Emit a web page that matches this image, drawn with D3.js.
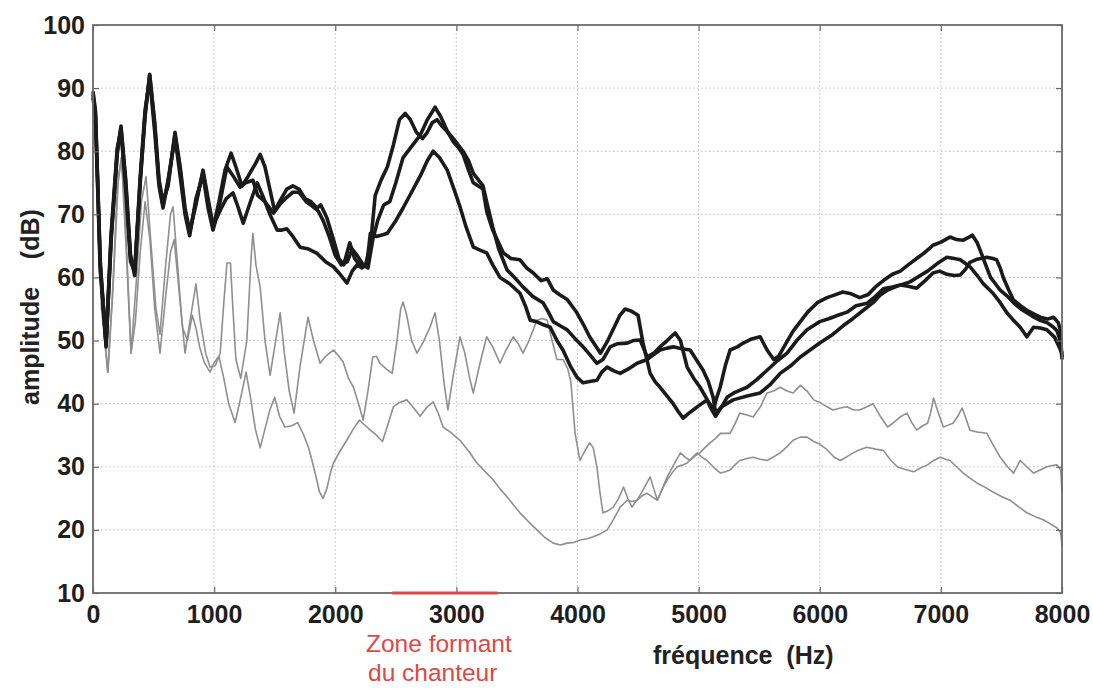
<!DOCTYPE html>
<html lang="fr">
<head>
    <meta charset="UTF-8">
    <title>Spectre - zone formant du chanteur</title>
    <script src="https://d3js.org/d3.v7.min.js"></script>
    <style>
        body { margin: 0; background: #fff; }
        svg { display: block; font-family: "Liberation Sans", Arial, sans-serif; }
        .axe text { font-size: 25px; font-weight: bold; fill: #1e1e1e; }
        .axe line { stroke: #666; stroke-width: 1.2px; }
        .grille line { stroke: #bdbdbd; stroke-width: 1px; stroke-dasharray: 1.5,2.5; }
        .titre { font-size: 25px; font-weight: bold; fill: #222; white-space: pre; }
        .zone { font-size: 24.5px; fill: #e04646; }
    </style>
</head>
<body>
<svg width="1093" height="690"></svg>
<script>
    // graduations
    const ticksX = [0, 1000, 2000, 3000, 4000, 5000, 6000, 7000, 8000];
    const ticksY = [10, 20, 30, 40, 50, 60, 70, 80, 90, 100];
    const zoneFormant = [2470, 3340];

    // spectres [frequence Hz, amplitude dB] - traits noirs
    const noir1 = [[0,89],[20,86],[60,62],[108,49.3],[150,66],[200,80],[231,83.7],[270,75],[310,63],[344,60.7],[390,75],[430,86],[468,92],[510,84],[545,75],[578,71.5],[620,75],[677,82.6],[720,77],[760,70.5],[798,67],[850,72],[908,76.7],[950,72],[991,67.8],[1040,72],[1090,77],[1140,79.7],[1180,77.5],[1230,74.5],[1280,76],[1340,78],[1380,79.5],[1420,77.5],[1460,74],[1500,70.5],[1540,72],[1600,74],[1650,74.5],[1700,74],[1750,72.5],[1800,72],[1850,71],[1880,71.5],[1930,69.5],[1985,66],[2030,63],[2070,62],[2120,65.5],[2160,63],[2200,62],[2250,62],[2290,65],[2330,73],[2380,75.5],[2430,77.5],[2480,81],[2530,85],[2577,86],[2620,85],[2670,83],[2720,82],[2760,83],[2800,84.5],[2840,85],[2880,84],[2930,83],[2975,81.5],[3020,80.5],[3055,79.5],[3100,77],[3140,75],[3220,74],[3250,70.5],[3300,67.5],[3387,63.9],[3450,63],[3525,62.8],[3580,61.5],[3635,60.7],[3700,59.5],[3750,59.8],[3800,58],[3850,57.3],[3915,56.5],[3995,54.4],[4050,52.5],[4100,50.6],[4190,48],[4250,50],[4300,52],[4350,54],[4393,55],[4440,54.7],[4500,54],[4541,49.6],[4600,44.8],[4640,43.5],[4682,42.6],[4740,41.2],[4790,40],[4830,38.8],[4872,37.7],[4920,38.5],[4955,39],[5010,39.8],[5070,40.6],[5100,39.8],[5120,39],[5150,41],[5178,42.6],[5220,46],[5260,48.5],[5320,49],[5368,49.6],[5430,50.2],[5508,50.6],[5565,48.5],[5620,47],[5660,47.5],[5720,49.5],[5780,51.5],[5840,53],[5900,54.5],[5980,56],[6060,56.8],[6120,57.2],[6190,57.7],[6260,57.4],[6330,56.8],[6400,57.3],[6460,58.5],[6525,59.5],[6600,60.5],[6665,61],[6730,62],[6800,63],[6870,64],[6935,65.1],[7000,65.6],[7075,66.4],[7130,66],[7185,65.9],[7225,66.3],[7260,66.7],[7300,65.5],[7325,64.3],[7370,62],[7410,60],[7450,59],[7490,58],[7550,57],[7600,56],[7660,55],[7710,54.4],[7760,53.8],[7820,53.2],[7880,52.8],[7930,52.1],[7960,51.5],[7985,50],[8000,47.4]];

    const noir2 = [[0,88.5],[20,85.5],[60,61],[108,49.8],[150,67],[200,80.5],[231,83.3],[270,74],[310,62.5],[344,61],[390,76],[430,86.5],[468,91.5],[510,83],[545,74.5],[578,71],[620,75.5],[677,82.2],[720,76],[760,70],[798,66.6],[850,72.5],[908,76.2],[950,71],[991,67.5],[1040,71],[1080,75],[1106,77.5],[1160,76],[1215,74.3],[1260,75],[1320,75.4],[1360,73],[1420,72],[1490,70.2],[1540,71.5],[1600,72.7],[1650,73.5],[1700,73.5],[1760,72],[1810,71.3],[1860,70.5],[1900,69],[1950,66.5],[2000,63.5],[2050,62],[2100,62.5],[2140,64.5],[2180,63.5],[2230,62],[2270,61.5],[2310,66],[2350,69],[2400,71.5],[2450,72],[2500,75],[2560,79],[2620,80.5],[2700,82.5],[2760,85],[2800,86.2],[2824,87],[2870,85.5],[2930,83],[2975,82],[3055,80],[3100,78.5],[3140,76.5],[3180,75.5],[3220,74.5],[3250,72],[3300,68],[3350,64.5],[3418,61.2],[3480,60],[3550,58.5],[3630,57],[3715,56],[3760,54.5],[3800,53],[3860,52.3],[3915,51.7],[3980,50.3],[4046,49],[4100,47.8],[4160,46.4],[4210,47],[4270,49],[4330,49.5],[4410,49.6],[4460,50],[4517,50.1],[4575,47.4],[4630,48],[4682,49],[4740,50],[4806,51.2],[4850,50],[4905,45.8],[4960,44],[5012,42.6],[5060,41],[5095,39.5],[5140,38],[5190,39.5],[5235,41],[5300,41.8],[5400,42.6],[5480,43.8],[5565,45.3],[5650,46.8],[5730,48],[5810,50],[5895,51.7],[5960,52.5],[6000,53],[6080,53.5],[6150,54],[6225,54.5],[6300,55.5],[6390,55.9],[6460,57],[6525,58.2],[6600,58.5],[6665,58.8],[6730,58.6],[6800,58.3],[6870,59.5],[6935,60.7],[6990,61],[7050,60.5],[7110,60.3],[7160,60.4],[7200,61.2],[7240,62.4],[7300,62.9],[7380,63.2],[7430,63],[7460,62.8],[7490,61.5],[7515,60],[7560,58],[7600,56.4],[7660,55.5],[7710,54.8],[7770,54.2],[7820,53.7],[7880,53.4],[7930,53.7],[7970,52.8],[7985,51.7],[8000,47]];

    const noir3 = [[0,89.5],[20,86.5],[60,62.5],[108,49],[150,66.5],[200,79.5],[231,84],[270,75.5],[310,63.5],[344,60.3],[390,75.5],[430,85.5],[468,92.2],[510,84.5],[545,75.5],[578,72],[620,74.5],[677,83],[720,77.5],[760,71],[798,67.3],[850,71.5],[908,77],[950,72.5],[991,68.2],[1060,71],[1100,72.5],[1156,73.4],[1200,71],[1240,68.6],[1300,72],[1355,75],[1400,73],[1460,70],[1520,67.5],[1560,67.5],[1600,67.7],[1650,66.5],[1710,64.8],[1780,64.5],[1850,63.8],[1920,62.5],[1985,61.7],[2040,60.5],[2097,59.1],[2140,61],[2180,62],[2220,61.5],[2260,62],[2290,67],[2340,66.5],[2400,66.8],[2430,67],[2500,69],[2560,71],[2630,73.5],[2700,76],[2760,78.5],[2808,80],[2860,79],[2925,77],[2980,74],[3030,71.2],[3080,68],[3140,64.8],[3200,64.3],[3250,63.9],[3300,62],[3360,60],[3440,59],[3525,57.5],[3570,55.5],[3610,53.2],[3660,53],[3720,52.5],[3775,52.1],[3830,50],[3880,48.5],[3940,46],[3995,44.2],[4046,43.3],[4100,43.5],[4160,43.7],[4200,45],[4245,45.8],[4300,45.2],[4352,44.8],[4420,45.5],[4492,46.4],[4575,47],[4630,47.8],[4682,48.5],[4740,48.8],[4790,49],[4860,48.7],[4930,48.5],[4980,47],[5037,45.3],[5080,43.5],[5120,41],[5140,38.5],[5190,39.5],[5285,40.6],[5400,41.2],[5508,41.7],[5590,43],[5673,44.8],[5760,46],[5840,47.4],[5920,48.5],[6000,49.6],[6110,51],[6190,52.3],[6275,53.5],[6360,54.8],[6440,56],[6500,57.2],[6560,58],[6650,58.7],[6745,59.3],[6820,60.2],[6890,61],[6970,62.2],[7050,63.2],[7110,63],[7160,62.8],[7240,61.7],[7300,60.3],[7350,59],[7430,57.5],[7490,56],[7545,54.4],[7600,53.2],[7655,52.1],[7710,50.6],[7765,52.1],[7820,52],[7875,51.7],[7940,50.5],[8000,48]];

    // traits gris
    const gris1 = [[0,88],[30,80],[70,55],[124,45],[170,60],[210,76],[235,79],[270,68],[314,48],[360,60],[400,72],[438,76],[480,65],[520,55],[553,51],[600,62],[640,70],[661,71.2],[690,64],[730,54],[760,48],[800,53],[850,59],[885,53.2],[930,48],[966,45.8],[1010,46],[1050,48],[1080,56],[1106,62.3],[1135,62.3],[1155,55],[1180,47],[1220,44],[1270,50],[1305,63],[1320,67],[1345,62],[1380,58.5],[1420,50],[1462,44.5],[1500,49],[1545,54.4],[1580,48],[1620,42],[1660,38.5],[1710,46],[1775,53.7],[1820,50],[1875,46.4],[1920,47.5],[1985,48.5],[2030,47.5],[2065,46.6],[2110,44],[2150,42.6],[2200,39.5],[2230,37.4],[2270,42],[2310,47.4],[2340,47.5],[2370,46.4],[2420,45.5],[2470,44.8],[2510,50],[2540,55],[2560,56.1],[2590,54],[2630,50],[2675,48],[2720,49.5],[2780,52],[2824,54.4],[2860,50],[2900,43],[2930,39],[2970,44],[3030,50.6],[3070,48],[3110,44],[3140,41.7],[3190,46],[3250,50.6],[3300,49],[3360,46.4],[3410,48.5],[3470,50.6],[3510,49.5],[3550,48],[3600,50],[3665,53.2],[3710,53.5],[3750,53.2],[3790,50],[3830,47],[3880,47],[3920,45.5],[3945,43.5],[3980,35.3],[4020,31],[4060,32.5],[4100,33.8],[4130,33],[4160,30],[4185,26],[4210,22.7],[4250,23],[4295,23.6],[4340,25],[4380,26.8],[4415,25],[4450,23.6],[4500,25],[4540,26.3],[4600,28.4],[4630,26.5],[4660,24.7],[4700,26.5],[4740,28.4],[4800,30.5],[4850,32.2],[4890,31.5],[4930,31],[4970,31.7],[5010,32.2],[5050,33],[5095,33.8],[5140,34.5],[5180,35.3],[5220,35.3],[5260,35.3],[5300,36.8],[5340,38.5],[5400,38.2],[5450,37.9],[5510,39.5],[5565,41.7],[5620,42],[5673,42.6],[5730,42],[5780,41.7],[5840,42.9],[5895,42],[5950,40.6],[6000,40.2],[6060,39.5],[6110,39],[6170,39.3],[6225,39.5],[6280,39],[6330,39],[6390,39.5],[6440,40],[6500,38],[6560,36.3],[6610,37],[6665,37.9],[6720,38.5],[6760,37],[6800,35.8],[6850,36.5],[6890,36.9],[6915,38.5],[6940,40.9],[6980,38.5],[7020,36.3],[7060,36.6],[7100,36.9],[7140,38],[7175,39.3],[7210,37.5],[7240,35.8],[7300,35.5],[7380,35.3],[7430,33.5],[7490,31.5],[7550,30],[7600,29],[7655,31],[7710,30],[7765,29],[7820,29.5],[7875,30],[7920,30.2],[7960,30.3],[7990,29.5],[8000,26]];

    const gris2 = [[0,87],[40,79],[80,54],[120,45],[160,57],[200,74],[235,79],[275,64],[314,48],[350,53],[390,64],[430,72],[470,66],[510,55],[553,48],[600,57],[640,64],[670,66],[700,60],[740,52],[780,50],[820,54],[850,52],[880,49],[920,46.5],[966,45],[1000,46.5],[1040,47.5],[1080,44],[1120,40],[1173,37],[1220,41],[1264,45],[1300,41],[1340,36],[1380,33],[1420,36],[1460,39],[1500,41],[1540,38],[1585,36.3],[1640,36.5],[1690,37],[1740,35],[1780,33],[1808,31],[1840,28.5],[1870,26],[1900,25],[1930,26.5],[1960,29],[1985,30.6],[2040,32.5],[2095,34.2],[2150,36],[2200,37.4],[2250,36.5],[2290,35.8],[2340,35],[2390,34],[2440,37],[2480,39.5],[2530,40.2],[2590,40.6],[2640,39.5],[2700,38],[2760,39.5],[2808,40.3],[2850,38.5],[2890,36.3],[2950,35.5],[3030,34.2],[3100,32.5],[3170,30.6],[3240,29.2],[3305,27.9],[3360,26.5],[3420,25.2],[3470,24],[3525,22.7],[3600,21.2],[3665,20],[3730,18.8],[3800,17.9],[3860,17.6],[3915,17.9],[3970,18],[4020,18.4],[4080,18.6],[4130,18.9],[4190,19.4],[4245,20],[4295,21.6],[4352,23.6],[4410,24.7],[4450,24.5],[4492,24.7],[4540,25.5],[4575,25.8],[4620,25.2],[4660,24.7],[4700,26.5],[4740,27.9],[4780,29],[4823,30],[4870,30.3],[4905,30.6],[4950,31.5],[4988,32.2],[5030,31.5],[5070,31],[5120,30],[5180,29],[5220,29.2],[5260,29.5],[5300,30.3],[5340,31],[5400,31.3],[5450,31.5],[5510,31.2],[5565,31],[5620,31.6],[5673,32.2],[5730,33.2],[5780,34.2],[5840,34.7],[5895,34.7],[5950,34],[6000,33.6],[6060,32.7],[6120,31.5],[6170,31],[6225,31.6],[6275,32.2],[6330,32.7],[6390,33.1],[6460,32.8],[6525,32.6],[6580,31.2],[6640,30],[6700,29.6],[6775,29.2],[6830,29.8],[6890,30.3],[6940,31],[6995,31.5],[7040,31.2],[7075,31],[7130,30],[7185,29],[7240,28.2],[7300,27.4],[7370,26.7],[7430,26],[7500,25.3],[7570,24.7],[7640,23.7],[7710,22.7],[7780,22.1],[7845,21.6],[7900,21],[7960,20.3],[7990,19.5],[8000,17.5]];

    const svg = d3.select("svg");
    const m = { left: 93, top: 25, right: 31, bottom: 97 };
    const w = 1093 - m.left - m.right, h = 690 - m.top - m.bottom;

    const x = d3.scaleLinear().domain([0, 8000]).range([0, w]);
    const y = d3.scaleLinear().domain([10, 100]).range([h, 0]);

    const g = svg.append("g").attr("transform", `translate(${m.left},${m.top})`);

    // grille pointillée
    g.append("g").attr("class", "grille")
        .selectAll("line").data(ticksX.slice(1, -1)).join("line")
        .attr("x1", d => x(d)).attr("x2", d => x(d)).attr("y1", 0).attr("y2", h);
    g.append("g").attr("class", "grille")
        .selectAll("line").data(ticksY.slice(1, -1)).join("line")
        .attr("y1", d => y(d)).attr("y2", d => y(d)).attr("x1", 0).attr("x2", w);

    const line = d3.line().x(d => x(d[0])).y(d => y(d[1]));

    // courbes grises puis noires
    [gris1, gris2].forEach(s => {
        g.append("path").datum(s).attr("d", line)
            .attr("fill", "none").attr("stroke", "#8f8f8f")
            .attr("stroke-width", 1.6).attr("stroke-linejoin", "round");
    });
    [noir1, noir2, noir3].forEach(s => {
        g.append("path").datum(s).attr("d", line)
            .attr("fill", "none").attr("stroke", "#1b1b1b")
            .attr("stroke-width", 3.6).attr("stroke-linejoin", "round");
    });

    // axes avec graduations vers l'intérieur
    g.append("g").attr("class", "axe").attr("transform", `translate(0,${h})`)
        .call(d3.axisBottom(x).tickValues(ticksX).tickSize(-6).tickPadding(12).tickFormat(d3.format("d")));
    g.append("g").attr("class", "axe")
        .call(d3.axisLeft(y).tickValues(ticksY).tickSize(-6).tickPadding(8).tickFormat(d3.format("d")));
    g.append("g").attr("class", "axe")
        .call(d3.axisTop(x).tickValues(ticksX).tickSize(-6).tickFormat(""));
    g.append("g").attr("class", "axe").attr("transform", `translate(${w},0)`)
        .call(d3.axisRight(y).tickValues(ticksY).tickSize(-6).tickFormat(""));
    g.selectAll(".axe .domain").remove();

    // cadre
    g.append("rect").attr("width", w).attr("height", h)
        .attr("fill", "none").attr("stroke", "#6b6b6b").attr("stroke-width", 1.8);

    // zone formant du chanteur
    g.append("line")
        .attr("x1", x(zoneFormant[0])).attr("x2", x(zoneFormant[1]))
        .attr("y1", h).attr("y2", h)
        .attr("stroke", "#e04646").attr("stroke-width", 3);

    svg.append("text").attr("class", "zone").attr("x", 366).attr("y", 652).text("Zone formant");
    svg.append("text").attr("class", "zone").attr("x", 368).attr("y", 681).text("du chanteur");

    // titres des axes
    svg.append("text").attr("class", "titre").attr("x", 653).attr("y", 664)
        .text("fréquence  (Hz)");
    svg.append("text").attr("class", "titre")
        .attr("transform", "translate(39,405) rotate(-90)")
        .text("amplitude    (dB)");
</script>
</body>
</html>
